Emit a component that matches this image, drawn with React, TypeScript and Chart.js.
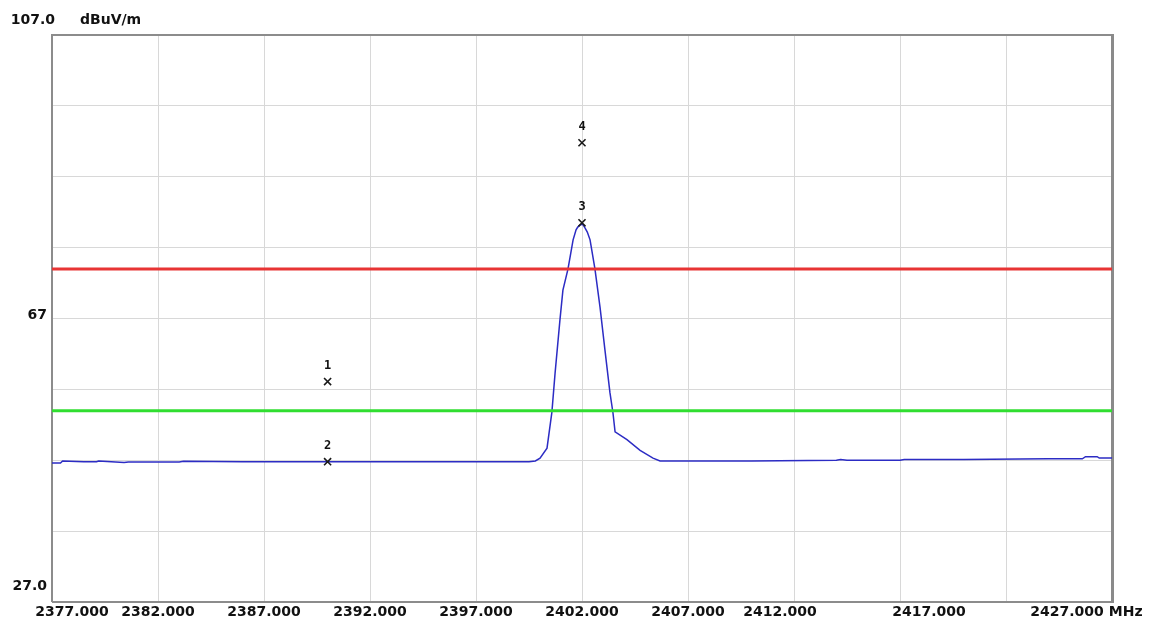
import React, { useEffect, useRef } from "react";
import { Chart, registerables } from "chart.js";

Chart.register(...registerables);

// Measured trace (MHz, dBuV/m)
const traceFreqMHz = [
  2377.0, 2377.4, 2377.5, 2378.5, 2379.1, 2379.2, 2380.4, 2380.6, 2383.0, 2383.2,
  2386.0, 2390.0, 2395.0, 2398.0, 2399.5, 2399.8, 2400.02, 2400.35, 2400.58, 2400.73,
  2400.96, 2401.1, 2401.34, 2401.58, 2401.72, 2401.8, 2401.91, 2402.0, 2402.05, 2402.14,
  2402.25, 2402.38, 2402.61, 2402.85, 2403.08, 2403.32, 2403.46, 2403.56, 2404.12, 2404.74,
  2405.35, 2405.68, 2406.5, 2410.0, 2414.0, 2414.2, 2414.5, 2416.0, 2417.0, 2417.2,
  2420.0, 2424.0, 2425.6, 2425.75, 2426.3, 2426.4, 2427.0,
];
const traceLevel = [
  46.6, 46.6, 46.9, 46.8, 46.8, 46.9, 46.7, 46.75, 46.75, 46.85,
  46.8, 46.8, 46.8, 46.8, 46.8, 46.9, 47.3, 48.7, 53.8, 59.3,
  66.8, 71.0, 74.0, 78.1, 79.5, 79.9, 80.2, 80.3, 80.2, 79.8,
  79.2, 78.1, 74.0, 68.6, 62.6, 56.5, 53.7, 51.0, 49.9, 48.4,
  47.3, 46.9, 46.9, 46.9, 47.0, 47.1, 47.0, 47.0, 47.0, 47.1,
  47.1, 47.2, 47.2, 47.5, 47.5, 47.3, 47.3,
];

// Limit lines
const peakLimit = 74;
const averageLimit = 54;

// Markers
const markerNames = ["1", "2", "3", "4"];
const markerFreq = [2390, 2390, 2402, 2402];
const markerLevel = [58.1, 46.8, 80.5, 91.8];

// Axes
const freqMin = 2377;
const freqMax = 2427;
const freqStep = 5;
const levelMin = 27;
const levelMax = 107;
const levelStep = 10;
const xTickValues = [2377, 2382, 2387, 2392, 2397, 2402, 2407, 2412, 2417, 2422, 2427];
const xTickLabels = [
  "2377.000", "2382.000", "2387.000", "2392.000", "2397.000", "2402.000",
  "2407.000", "2412.000", "2417.000", "", "2427.000",
];
const yLabelValues = [107, 67, 27];
const yLabelTexts = ["107.0", "67", "27.0"];
const yUnit = "dBuV/m";
const xUnit = "MHz";

const TEXT_FONT = 'bold 14px "DejaVu Sans", sans-serif';
const MARKER_FONT = 'bold 12px "DejaVu Sans Mono", monospace';

// horizontal nudges of individual frequency labels, in px
const xLabelNudge: Record<number, number> = { 2377: 20, 2412: -14, 2417: 29, 2427: -45 };

const analyzerPlugin = {
  id: "analyzerFrame",
  beforeDatasetsDraw(chart: any) {
    const { ctx, chartArea: a } = chart;
    ctx.save();
    ctx.strokeStyle = "#8c8c8c";
    ctx.lineWidth = 2;
    ctx.beginPath();
    ctx.moveTo(a.left, a.bottom);
    ctx.lineTo(a.left, a.top);
    ctx.lineTo(a.right, a.top);
    ctx.stroke();
    ctx.beginPath();
    ctx.moveTo(a.left, a.bottom);
    ctx.lineTo(a.right, a.bottom);
    ctx.stroke();
    ctx.strokeStyle = "#8a8a8a";
    ctx.lineWidth = 3;
    ctx.beginPath();
    ctx.moveTo(a.right + 0.5, a.top - 1);
    ctx.lineTo(a.right + 0.5, a.bottom + 1);
    ctx.stroke();
    ctx.restore();
  },
  afterDraw(chart: any) {
    const { ctx, chartArea: a } = chart;
    const xs = chart.scales.x;
    const ys = chart.scales.y;
    ctx.save();
    ctx.fillStyle = "#111";
    ctx.font = TEXT_FONT;
    ctx.textBaseline = "middle";

    // level labels
    yLabelValues.forEach((v, i) => {
      const y = ys.getPixelForValue(v);
      ctx.textAlign = "right";
      if (i === 0) {
        ctx.fillText(yLabelTexts[i], a.left + 3, y - 15);
      } else if (i === yLabelValues.length - 1) {
        ctx.fillText(yLabelTexts[i], a.left - 5, y - 16);
      } else {
        ctx.fillText(yLabelTexts[i], a.left - 5, y - 3);
      }
    });
    ctx.textAlign = "left";
    ctx.fillText(yUnit, a.left + 28, ys.getPixelForValue(levelMax) - 15);

    // frequency labels
    ctx.textAlign = "center";
    const ly = a.bottom + 10;
    xTickValues.forEach((v, i) => {
      const t = xTickLabels[i];
      if (!t) return;
      const cx = xs.getPixelForValue(v) + (xLabelNudge[v] || 0);
      ctx.fillText(t, cx, ly);
      if (v === freqMax) {
        const w = ctx.measureText(t).width;
        ctx.textAlign = "left";
        ctx.fillText(xUnit, cx + w / 2 + 5, ly);
        ctx.textAlign = "center";
      }
    });

    // marker numbers
    ctx.font = MARKER_FONT;
    ctx.textAlign = "center";
    markerNames.forEach((n, i) => {
      const px = xs.getPixelForValue(markerFreq[i]);
      const py = ys.getPixelForValue(markerLevel[i]);
      ctx.fillText(n, px, py - 16);
    });
    ctx.restore();
  },
};

export default function App() {
  const canvasRef = useRef<HTMLCanvasElement | null>(null);

  useEffect(() => {
    const canvas = canvasRef.current;
    if (!canvas) return;
    const chart = new Chart(canvas, {
      type: "line",
      data: {
        datasets: [
          {
            label: "markers",
            data: markerFreq.map((f, i) => ({ x: f, y: markerLevel[i] })),
            showLine: false,
            pointStyle: "crossRot",
            pointRadius: 5,
            pointBorderWidth: 1.6,
            pointBorderColor: "#1a1a1a",
            pointBackgroundColor: "#1a1a1a",
            borderColor: "#1a1a1a",
          },
          {
            label: "peak limit",
            data: [
              { x: freqMin, y: peakLimit },
              { x: freqMax, y: peakLimit },
            ],
            borderColor: "rgb(232, 52, 52)",
            borderWidth: 3,
            pointRadius: 0,
          },
          {
            label: "average limit",
            data: [
              { x: freqMin, y: averageLimit },
              { x: freqMax, y: averageLimit },
            ],
            borderColor: "rgb(48, 222, 48)",
            borderWidth: 3,
            pointRadius: 0,
          },
          {
            label: "trace",
            data: traceFreqMHz.map((f, i) => ({ x: f, y: traceLevel[i] })),
            borderColor: "rgb(44, 44, 196)",
            borderWidth: 1.5,
            pointRadius: 0,
            tension: 0,
          },
        ],
      },
      options: {
        animation: false,
        responsive: false,
        devicePixelRatio: 1,
        events: [],
        layout: { padding: { left: 52, top: 35, right: 43, bottom: 23 } },
        plugins: { legend: { display: false }, tooltip: { enabled: false } },
        scales: {
          x: {
            type: "linear",
            min: freqMin,
            max: freqMax,
            ticks: { display: false, stepSize: freqStep },
            grid: { color: "#d8d8d8", lineWidth: 1, drawTicks: false },
            border: { display: false },
          },
          y: {
            type: "linear",
            min: levelMin,
            max: levelMax,
            ticks: { display: false, stepSize: levelStep },
            grid: { color: "#d8d8d8", lineWidth: 1, drawTicks: false },
            border: { display: false },
          },
        },
      },
      plugins: [analyzerPlugin],
    });
    return () => chart.destroy();
  }, []);

  return (
    <div style={{ position: "absolute", left: 0, top: 0, width: 1155, height: 625, background: "#fff" }}>
      <canvas ref={canvasRef} width={1155} height={625} />
    </div>
  );
}
